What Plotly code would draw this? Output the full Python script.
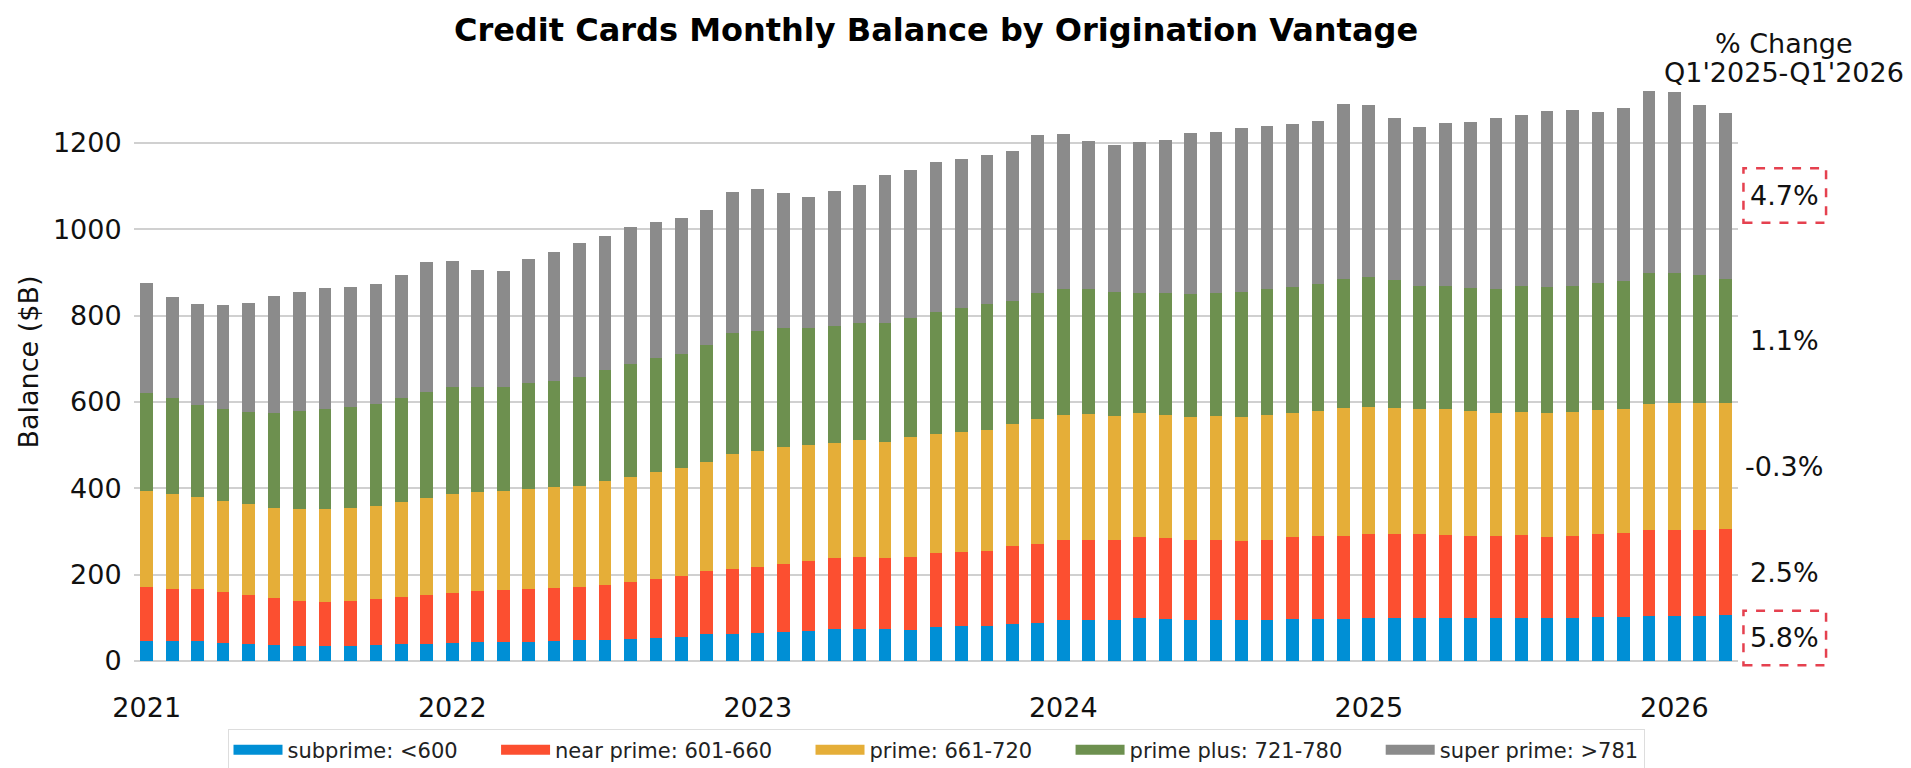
import plotly.graph_objects as go

# ---------------- data ----------------
months = [f"{y}-{m:02d}" for y in range(2021, 2027) for m in range(1, 13)][:63]
tick_vals = ["2021-01", "2022-01", "2023-01", "2024-01", "2025-01", "2026-01"]
tick_text = ["2021", "2022", "2023", "2024", "2025", "2026"]

subprime = [45.6,45.6,45.6,41.8,40.2,37.9,34.8,34.0,34.8,36.3,38.7,40.2,
            41.8,43.3,44.1,44.8,45.6,48.0,48.7,51.0,54.1,55.7,61.9,63.4,
            65.0,68.0,69.6,74.2,75.0,74.2,72.7,78.9,80.4,81.2,86.6,88.1,
            94.3,94.3,94.3,99.7,98.2,95.9,94.3,94.3,94.3,98.2,97.8,97.8,
            99.7,99.7,99.7,99.7,99.7,100.5,100.5,100.5,99.7,102.1,102.1,105.2,
            105.2,105.2,106.7]
near_prime = [125.3,121.4,120.6,117.5,113.7,107.5,103.6,102.9,104.4,106.7,109.8,112.1,
              115.9,119.1,120.6,123.0,124.5,124.4,126.8,133.0,135.3,140.7,146.9,149.2,
              153.0,157.8,161.6,164.0,166.2,164.7,167.8,170.1,171.7,173.2,180.2,182.5,
              185.6,185.6,185.6,186.4,185.6,185.5,185.6,182.5,185.6,187.9,191.8,192.6,
              194.1,194.1,193.3,191.8,190.3,189.5,190.2,187.1,190.3,191.7,194.8,197.9,
              197.9,197.9,198.7]
prime = [222.7,219.6,214.2,211.1,209.5,208.7,212.6,214.1,214.2,216.6,219.6,224.3,
         228.9,228.1,228.9,231.2,231.9,232.8,242.0,241.3,247.5,249.7,252.8,266.8,
         269.1,270.2,268.3,267.5,270.7,269.1,277.5,276.0,279.1,280.6,281.4,289.2,
         290.0,291.5,288.4,287.6,286.1,283.0,287.6,287.6,290.0,289.2,289.9,294.9,
         295.4,291.5,290.0,291.5,289.1,283.7,286.9,286.1,286.0,287.7,287.6,292.3,
         293.8,293.8,291.5]
prime_plus = [227.4,221.4,212.6,212.6,212.6,219.9,228.0,232.0,235.6,235.4,239.9,247.4,
              248.9,245.0,241.9,245.0,246.6,253.5,256.5,261.7,264.1,264.9,270.4,281.2,
              277.4,274.7,271.2,270.3,270.3,274.2,277.4,284.3,285.8,292.0,286.5,293.5,
              292.6,291.1,286.5,279.6,283.4,285.8,285.8,289.6,292.6,290.3,293.5,299.7,
              300.4,296.6,286.5,286.5,285.8,288.8,291.1,291.9,292.7,293.4,295.8,302.7,
              302.7,297.3,288.8]
super_prime = [255.0,235.0,233.0,242.0,253.0,272.0,275.0,282.0,278.0,279.0,285.0,299.0,
               291.5,270.5,268.5,286.0,298.4,309.3,310.0,318.0,316.0,314.5,313.6,325.9,
               328.2,312.7,305.0,313.6,321.3,344.4,342.8,347.5,345.9,345.2,347.5,365.2,
               357.6,342.1,340.6,348.2,354.4,372.2,372.2,380.7,377.7,378.4,377.6,404.2,
               399.2,376.8,368.3,377.6,383.0,394.6,396.9,407.8,407.0,397.7,400.8,423.1,
               418.5,394.6,384.6]

series_names = ["subprime: <600", "near prime: 601-660", "prime: 661-720",
                "prime plus: 721-780", "super prime: >781"]
series_values = [subprime, near_prime, prime, prime_plus, super_prime]
colors = ["#008fd5", "#fc4f30", "#e5ae38", "#6d904f", "#8b8b8b"]
pct_change = ["5.8%", "2.5%", "-0.3%", "1.1%", "4.7%"]
highlight = [True, False, False, False, True]

# ---------------- layout constants ----------------
W, H = 1911, 768
ML, MR, MT, MB = 134, 173, 63, 107
YMAX = 1385
FONT = "DejaVu Sans"
PAD = "\u00a0" * 5

fig = go.Figure()
for i, (name, vals, col) in enumerate(zip(series_names, series_values, colors)):
    fig.add_trace(go.Bar(x=months, y=vals, name=name, marker_color=col,
                         marker_line_width=0, showlegend=False, legendgroup=name))
    # legend entry (wide colour patch like the reference)
    label = name + (PAD if i < len(series_names) - 1 else "")
    fig.add_trace(go.Scatter(x=[None], y=[None], mode="lines", name=label,
                             line=dict(color=col, width=15), legendgroup=name,
                             showlegend=True, hoverinfo="skip"))

# right-hand % change labels at the mid-point of each segment of the last bar
label_x = 1.0287
cum = 0
for vals, txt, hl in zip(series_values, pct_change, highlight):
    mid = cum + vals[-1] / 2
    cum += vals[-1]
    fig.add_annotation(x=label_x, xref="paper", y=mid, yref="y", text=txt,
                       showarrow=False, xanchor="center", yanchor="middle",
                       font=dict(family=FONT, size=27, color="#111111"))
    if hl:
        half = 63
        fig.add_shape(type="rect", xref="paper", yref="paper",
                      x0=1.0034, x1=1.0549,
                      y0=(mid - half) / YMAX, y1=(mid + half) / YMAX,
                      line=dict(color="#e5414f", width=2.5, dash="dash"),
                      fillcolor="rgba(0,0,0,0)")

fig.add_annotation(x=label_x, xref="paper", y=1.0318, yref="paper",
                   text="% Change", showarrow=False, xanchor="center", yanchor="middle",
                   font=dict(family=FONT, size=27, color="#111111"))
fig.add_annotation(x=label_x, xref="paper", y=0.984, yref="paper",
                   text="Q1'2025-Q1'2026", showarrow=False, xanchor="center", yanchor="middle",
                   font=dict(family=FONT, size=27, color="#111111"))

fig.update_layout(
    width=W, height=H,
    margin=dict(l=ML, r=MR, t=MT, b=MB, autoexpand=False),
    barmode="stack", bargap=0.5,
    plot_bgcolor="white", paper_bgcolor="white",
    font=dict(family=FONT, size=27, color="#111111"),
    title=dict(text="<b>Credit Cards Monthly Balance by Origination Vantage</b>",
               x=0.5, xref="paper", xanchor="center",
               y=1 - 30 / H, yref="container", yanchor="middle",
               font=dict(family=FONT, size=32, color="#000000")),
    showlegend=True,
    legend=dict(orientation="h", x=0.5, xanchor="center", y=-0.113, yanchor="top",
                font=dict(family=FONT, size=21, color="#222222"),
                bordercolor="#dddddd", borderwidth=1, traceorder="normal",
                itemwidth=49),
)
fig.update_xaxes(type="category", range=[-0.5, 62.5], tickmode="array",
                 tickvals=tick_vals, ticktext=tick_text, showgrid=False,
                 ticks="outside", ticklen=23, tickcolor="rgba(0,0,0,0)",
                 showline=False, zeroline=False,
                 tickfont=dict(family=FONT, size=27, color="#111111"))
fig.update_yaxes(range=[0, YMAX], tickvals=[0, 200, 400, 600, 800, 1000, 1200],
                 showgrid=True, gridcolor="#d0d0d0", gridwidth=1.5,
                 zeroline=True, zerolinecolor="#d0d0d0", zerolinewidth=1.5,
                 ticks="outside", ticklen=6, tickcolor="rgba(0,0,0,0)",
                 showline=False,
                 tickfont=dict(family=FONT, size=27, color="#111111"),
                 title=dict(text="Balance ($B)", standoff=6,
                            font=dict(family=FONT, size=27, color="#111111")))

fig.write_html("out.html", config={"displayModeBar": False},
               post_script="document.body.style.margin='0px';")
